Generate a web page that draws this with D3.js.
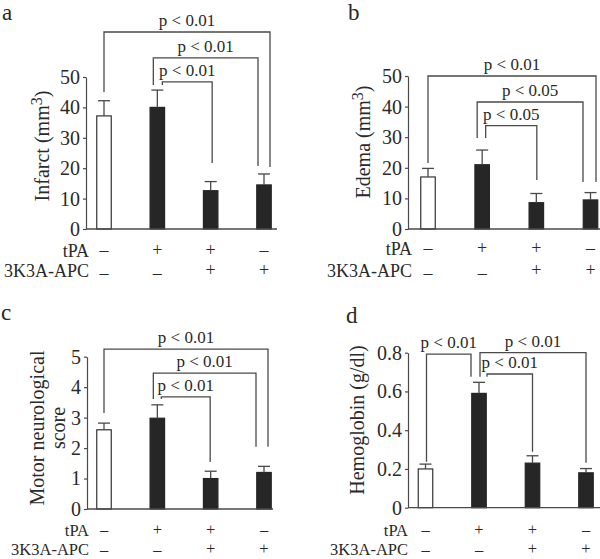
<!DOCTYPE html>
<html><head><meta charset="utf-8">
<script src="https://cdn.jsdelivr.net/npm/d3@7"></script>
<style>
body{margin:0;background:#fff}
svg{display:block}
text{font-family:"Liberation Serif","Times New Roman",serif;fill:#2a2a2a}
</style>
</head><body><svg id="chart" width="600" height="559"></svg>
<script>
// ---- data ----
const groups = ["control", "tPA", "tPA+3K3A-APC", "3K3A-APC"];
const tpaSigns = ["\u2013", "+", "+", "\u2013"];
const apcSigns = ["\u2013", "\u2013", "+", "+"];

const infarctMean = [37.2, 40.0, 12.6, 14.5];
const infarctErr  = [5.0, 5.7, 3.0, 3.6];
const edemaMean   = [17.0, 21.0, 8.6, 9.5];
const edemaErr    = [2.8, 4.8, 3.0, 2.4];
const motorMean   = [2.6, 2.98, 1.0, 1.2];
const motorErr    = [0.22, 0.44, 0.24, 0.2];
const hemoMean    = [0.2, 0.59, 0.23, 0.18];
const hemoErr     = [0.025, 0.057, 0.038, 0.022];

const infarctTicks = [0, 10, 20, 30, 40, 50];
const edemaTicks   = [0, 10, 20, 30, 40, 50];
const motorTicks   = [0, 1, 2, 3, 4, 5];
const hemoTicks    = [0, 0.2, 0.4, 0.6, 0.8];

// significance brackets: groups compared, bracket level and leg ends in data units
const infarctP = [
  {from: 0, to: 3, level: 64.8, legFrom: 45.1, legTo: 20.4, label: "p < 0.01"},
  {from: 1, to: 3, level: 56.3, legFrom: 47.4, legTo: 20.7, label: "p < 0.01"},
  {from: 1, to: 2, level: 48.4, legFrom: 47.4, legTo: 21.7, label: "p < 0.01"}
];
const edemaP = [
  {from: 0, to: 3, level: 50.0, legFrom: 21.6, legTo: 15.4, label: "p < 0.01"},
  {from: 1, to: 3, level: 41.5, legFrom: 29.7, legTo: 15.4, label: "p < 0.05"},
  {from: 1, to: 2, level: 33.8, legFrom: 29.7, legTo: 16.0, label: "p < 0.05"}
];
const motorP = [
  {from: 0, to: 3, level: 5.25, legFrom: 3.15, legTo: 2.04, label: "p < 0.01"},
  {from: 1, to: 3, level: 4.46, legFrom: 3.61, legTo: 2.04, label: "p < 0.01"},
  {from: 1, to: 2, level: 3.68, legFrom: 3.61, legTo: 1.54, label: "p < 0.01"}
];
const hemoP = [
  {from: 0, to: 1, level: 0.793, legFrom: 0.237, legTo: 0.676, label: "p < 0.01"},
  {from: 1, to: 3, level: 0.8, legFrom: 0.676, legTo: 0.232, label: "p < 0.01"},
  {from: 1, to: 2, level: 0.69, legFrom: 0.676, legTo: 0.289, label: "p < 0.01"}
];

// ---- layout (not data) ----
const svg = d3.select("#chart");
const LINE = "#4a4a4a";
const BAR = "#262626";

const panels = [
  {letter: "a", lx: 2, ly: 20, mean: infarctMean, err: infarctErr, ticks: infarctTicks, fmt: d3.format("d"),
   ax: 86, axEnd: 277, y0: 229, yTop: 77, c0: 104, c3: 264,
   ylab: [["Infarct (mm", "3", ")"]], ylx: [42], yly: 146,
   brackets: infarctP, bdx: [[0, 6], [-4, -6], [5, 1.5]],
   rowX: 89, rowY1: 257, rowY2: 277, rowFs: 18, dashDy: 2},
  {letter: "b", lx: 348, ly: 20, mean: edemaMean, err: edemaErr, ticks: edemaTicks, fmt: d3.format("d"),
   ax: 408, axEnd: 600, y0: 229, yTop: 76, c0: 428, c3: 590.5,
   ylab: [["Edema (mm", "3", ")"]], ylx: [363], yly: 142,
   brackets: edemaP, bdx: [[0, 5.5], [-5, -7.5], [3.5, 0.5]],
   rowX: 412, rowY1: 255, rowY2: 277, rowFs: 18, dashDy: 2},
  {letter: "c", lx: 1, ly: 320, mean: motorMean, err: motorErr, ticks: motorTicks, fmt: d3.format("d"),
   ax: 87, axEnd: 273, y0: 509, yTop: 356.7, c0: 104, c3: 264,
   ylab: [["Motor neurological"], ["score"]], ylx: [37, 58], yly: 428,
   brackets: motorP, bdx: [[0, 4], [-4, -8], [4, -0.5]],
   rowX: 89, rowY1: 536, rowY2: 555, rowFs: 16.5, dashDy: 0},
  {letter: "d", lx: 346, ly: 323, mean: hemoMean, err: hemoErr, ticks: hemoTicks,
   fmt: v => v === 0 ? "0" : d3.format(".1f")(v),
   ax: 408, axEnd: 600, y0: 507.7, yTop: 352.7, c0: 425.5, c3: 586,
   ylab: [["Hemoglobin (g/dl)"]], ylx: [357], yly: 420,
   brackets: hemoP, bdx: [[1, -8], [1, 0], [8, 0]],
   rowX: 408, rowY1: 536, rowY2: 555, rowFs: 16.5, dashDy: 0}
];

panels.forEach(p => {
  const g = svg.append("g");
  const yMax = p.ticks[p.ticks.length - 1];
  const y = d3.scaleLinear().domain([0, yMax]).range([p.y0, p.yTop]);
  const x = d3.scalePoint().domain(groups).range([p.c0, p.c3]);
  const bw = 14.5;

  // panel letter
  g.append("text").attr("x", p.lx).attr("y", p.ly).attr("font-size", 23).text(p.letter);

  // y axis
  const yAxis = d3.axisLeft(y).tickValues(p.ticks).tickFormat(p.fmt).tickSize(3).tickSizeOuter(0).tickPadding(3);
  const ag = g.append("g").attr("transform", `translate(${p.ax},0)`).call(yAxis);
  ag.attr("font-family", null);
  ag.select(".domain").attr("stroke", LINE).attr("stroke-width", 1.2);
  ag.selectAll(".tick line").attr("stroke", LINE).attr("stroke-width", 1.2);
  ag.selectAll(".tick text").attr("font-size", 20).attr("fill", "#2a2a2a");

  // y label
  p.ylab.forEach((parts, i) => {
    const t = g.append("text")
      .attr("transform", `translate(${p.ylx[i]},${p.yly}) rotate(-90)`)
      .attr("text-anchor", "middle").attr("dy", "0.35em").attr("font-size", 20);
    t.append("tspan").text(parts[0]);
    if (parts.length > 1) {
      t.append("tspan").attr("dy", -7).attr("font-size", 16).text(parts[1]);
      t.append("tspan").attr("dy", 7).text(parts[2]);
    }
  });

  // bars
  g.selectAll("rect.bar").data(p.mean).enter().append("rect")
    .attr("x", (d, i) => x(groups[i]) - bw / 2)
    .attr("y", d => y(d))
    .attr("width", bw)
    .attr("height", d => p.y0 - y(d))
    .attr("fill", (d, i) => i === 0 ? "#fff" : BAR)
    .attr("stroke", (d, i) => i === 0 ? "#333" : BAR)
    .attr("stroke-width", 1.2);

  // error bars
  const eg = g.selectAll("g.err").data(p.mean).enter().append("g").attr("stroke", LINE).attr("stroke-width", 1.3);
  eg.append("line")
    .attr("x1", (d, i) => x(groups[i])).attr("x2", (d, i) => x(groups[i]))
    .attr("y1", d => y(d)).attr("y2", (d, i) => y(d + p.err[i]));
  eg.append("line")
    .attr("x1", (d, i) => x(groups[i]) - 6).attr("x2", (d, i) => x(groups[i]) + 6)
    .attr("y1", (d, i) => y(d + p.err[i])).attr("y2", (d, i) => y(d + p.err[i]));

  // x axis line
  g.append("line").attr("x1", p.ax).attr("x2", p.axEnd).attr("y1", p.y0).attr("y2", p.y0)
    .attr("stroke", LINE).attr("stroke-width", 1.3);

  // brackets
  p.brackets.forEach((b, i) => {
    const xa = x(groups[b.from]) + p.bdx[i][0];
    const xb = x(groups[b.to]) + p.bdx[i][1];
    const yl = y(b.level);
    g.append("path")
      .attr("d", `M${xa},${y(b.legFrom)}V${yl}H${xb}V${y(b.legTo)}`)
      .attr("fill", "none").attr("stroke", LINE).attr("stroke-width", 1.3);
    g.append("text").attr("x", (xa + xb) / 2).attr("y", yl - 6)
      .attr("text-anchor", "middle").attr("font-size", 17).text(b.label);
  });

  // treatment rows
  g.append("text").attr("x", p.rowX).attr("y", p.rowY1).attr("text-anchor", "end").attr("font-size", p.rowFs).text("tPA");
  g.append("text").attr("x", p.rowX).attr("y", p.rowY2).attr("text-anchor", "end").attr("font-size", p.rowFs).text("3K3A-APC");
  g.selectAll("text.s1").data(tpaSigns).enter().append("text")
    .attr("x", (d, i) => x(groups[i])).attr("y", p.rowY1 - 1)
    .attr("text-anchor", "middle").attr("font-size", p.rowFs).text(d => d);
  g.selectAll("text.s2").data(apcSigns).enter().append("text")
    .attr("x", (d, i) => x(groups[i])).attr("y", (d) => d === "+" ? p.rowY2 - 1 : p.rowY2 + p.dashDy)
    .attr("text-anchor", "middle").attr("font-size", p.rowFs).text(d => d);
});
</script>
</body></html>
